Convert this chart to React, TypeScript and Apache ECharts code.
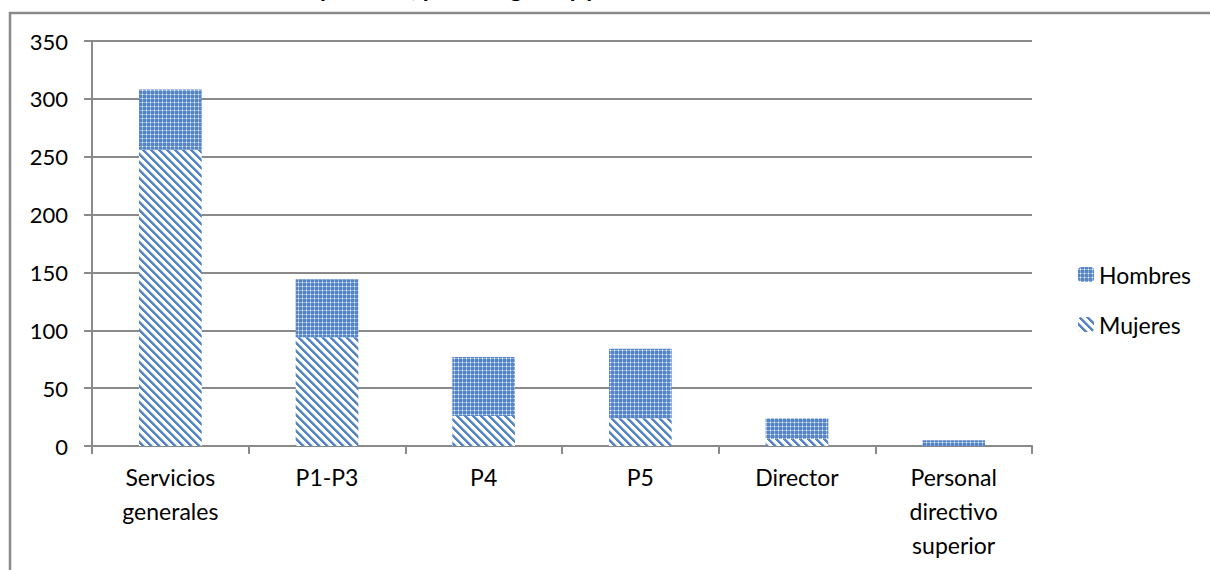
import React, { useEffect, useRef } from "react";
import * as echarts from "echarts";

const categories = [
  "Servicios\ngenerales",
  "P1-P3",
  "P4",
  "P5",
  "Director",
  "Personal\ndirectivo\nsuperior",
];
const mujeres = [256, 94, 26, 24, 6, 0];
const hombres = [52, 50, 51, 60, 18, 5];
const yTicks = { min: 0, max: 350, interval: 50 };
const titleText = "Distribución del personal, por categoría y por sexo";

const BLUE = "#5585c4";

function stripePattern(): HTMLCanvasElement {
  const c = document.createElement("canvas");
  c.width = 8;
  c.height = 8;
  const ctx = c.getContext("2d")!;
  ctx.fillStyle = "#ffffff";
  ctx.fillRect(0, 0, 8, 8);
  for (let y = 0; y < 8; y++) {
    for (let x = 0; x < 8; x++) {
      const d = (((x - y) % 8) + 8) % 8;
      if (d < 3) {
        ctx.fillStyle = BLUE;
        ctx.fillRect(x, y, 1, 1);
      } else if (d === 3) {
        ctx.fillStyle = "#a9c1e3";
        ctx.fillRect(x, y, 1, 1);
      }
    }
  }
  return c;
}

function dotPattern(): HTMLCanvasElement {
  const c = document.createElement("canvas");
  c.width = 4;
  c.height = 4;
  const ctx = c.getContext("2d")!;
  ctx.fillStyle = BLUE;
  ctx.fillRect(0, 0, 4, 4);
  ctx.fillStyle = "#8fb0dc";
  ctx.fillRect(2, 0, 1, 4);
  ctx.fillRect(0, 2, 4, 1);
  ctx.fillStyle = "#ffffff";
  ctx.fillRect(2, 2, 1, 1);
  return c;
}

export default function App() {
  const ref = useRef<HTMLDivElement>(null);
  useEffect(() => {
    if (!ref.current) return;
    const chart = echarts.init(ref.current, undefined, { renderer: "svg" });
    const stripes = { image: stripePattern(), repeat: "repeat" } as any;
    const dots = { image: dotPattern(), repeat: "repeat" } as any;
    const font = "Lato, Carlito, 'Open Sans', sans-serif";
    chart.setOption({
      animation: false,
      backgroundColor: "#ffffff",
      graphic: [
        {
          type: "rect",
          shape: { x: 10, y: 13, width: 1400, height: 800 },
          style: { fill: "none", stroke: "#8a8a8a", lineWidth: 2.5 },
          silent: true,
          z: -1,
        },
        {
          type: "text",
          x: 145,
          y: -13,
          style: {
            text: titleText,
            font: "bold 24px " + font,
            fill: "#000000",
            verticalAlign: "middle",
            textAlign: "left",
          },
        },
      ],
      grid: { left: 92, right: 178, top: 41, bottom: 124 },
      legend: {
        orient: "vertical",
        left: 1073,
        top: 258,
        itemWidth: 16,
        itemHeight: 15,
        itemGap: 27,
        data: ["Hombres", "Mujeres"],
        textStyle: { fontFamily: font, fontSize: 23, color: "#000" },
      },
      xAxis: {
        type: "category",
        data: categories,
        axisLine: { lineStyle: { color: "#8a8a8a", width: 2 } },
        axisTick: { show: true, length: 8, lineStyle: { color: "#8a8a8a", width: 2 } },
        axisLabel: {
          fontFamily: font,
          fontSize: 23,
          color: "#000",
          lineHeight: 34,
          margin: 14,
          interval: 0,
        },
      },
      yAxis: {
        type: "value",
        min: yTicks.min,
        max: yTicks.max,
        interval: yTicks.interval,
        axisLine: { show: true, lineStyle: { color: "#8a8a8a", width: 2 } },
        axisTick: { show: true, length: 8, lineStyle: { color: "#8a8a8a", width: 2 } },
        splitLine: { lineStyle: { color: "#8a8a8a", width: 2 } },
        axisLabel: { fontFamily: font, fontSize: 22, color: "#000", margin: 24 },
      },
      series: [
        {
          name: "Mujeres",
          type: "bar",
          stack: "total",
          barWidth: "40%",
          data: mujeres,
          itemStyle: { color: stripes },
        },
        {
          name: "Hombres",
          type: "bar",
          stack: "total",
          barWidth: "40%",
          data: hombres,
          itemStyle: { color: dots },
        },
      ],
    });
    return () => chart.dispose();
  }, []);
  return (
    <div
      ref={ref}
      style={{ position: "fixed", left: 0, top: 0, width: 1210, height: 570 }}
    />
  );
}
